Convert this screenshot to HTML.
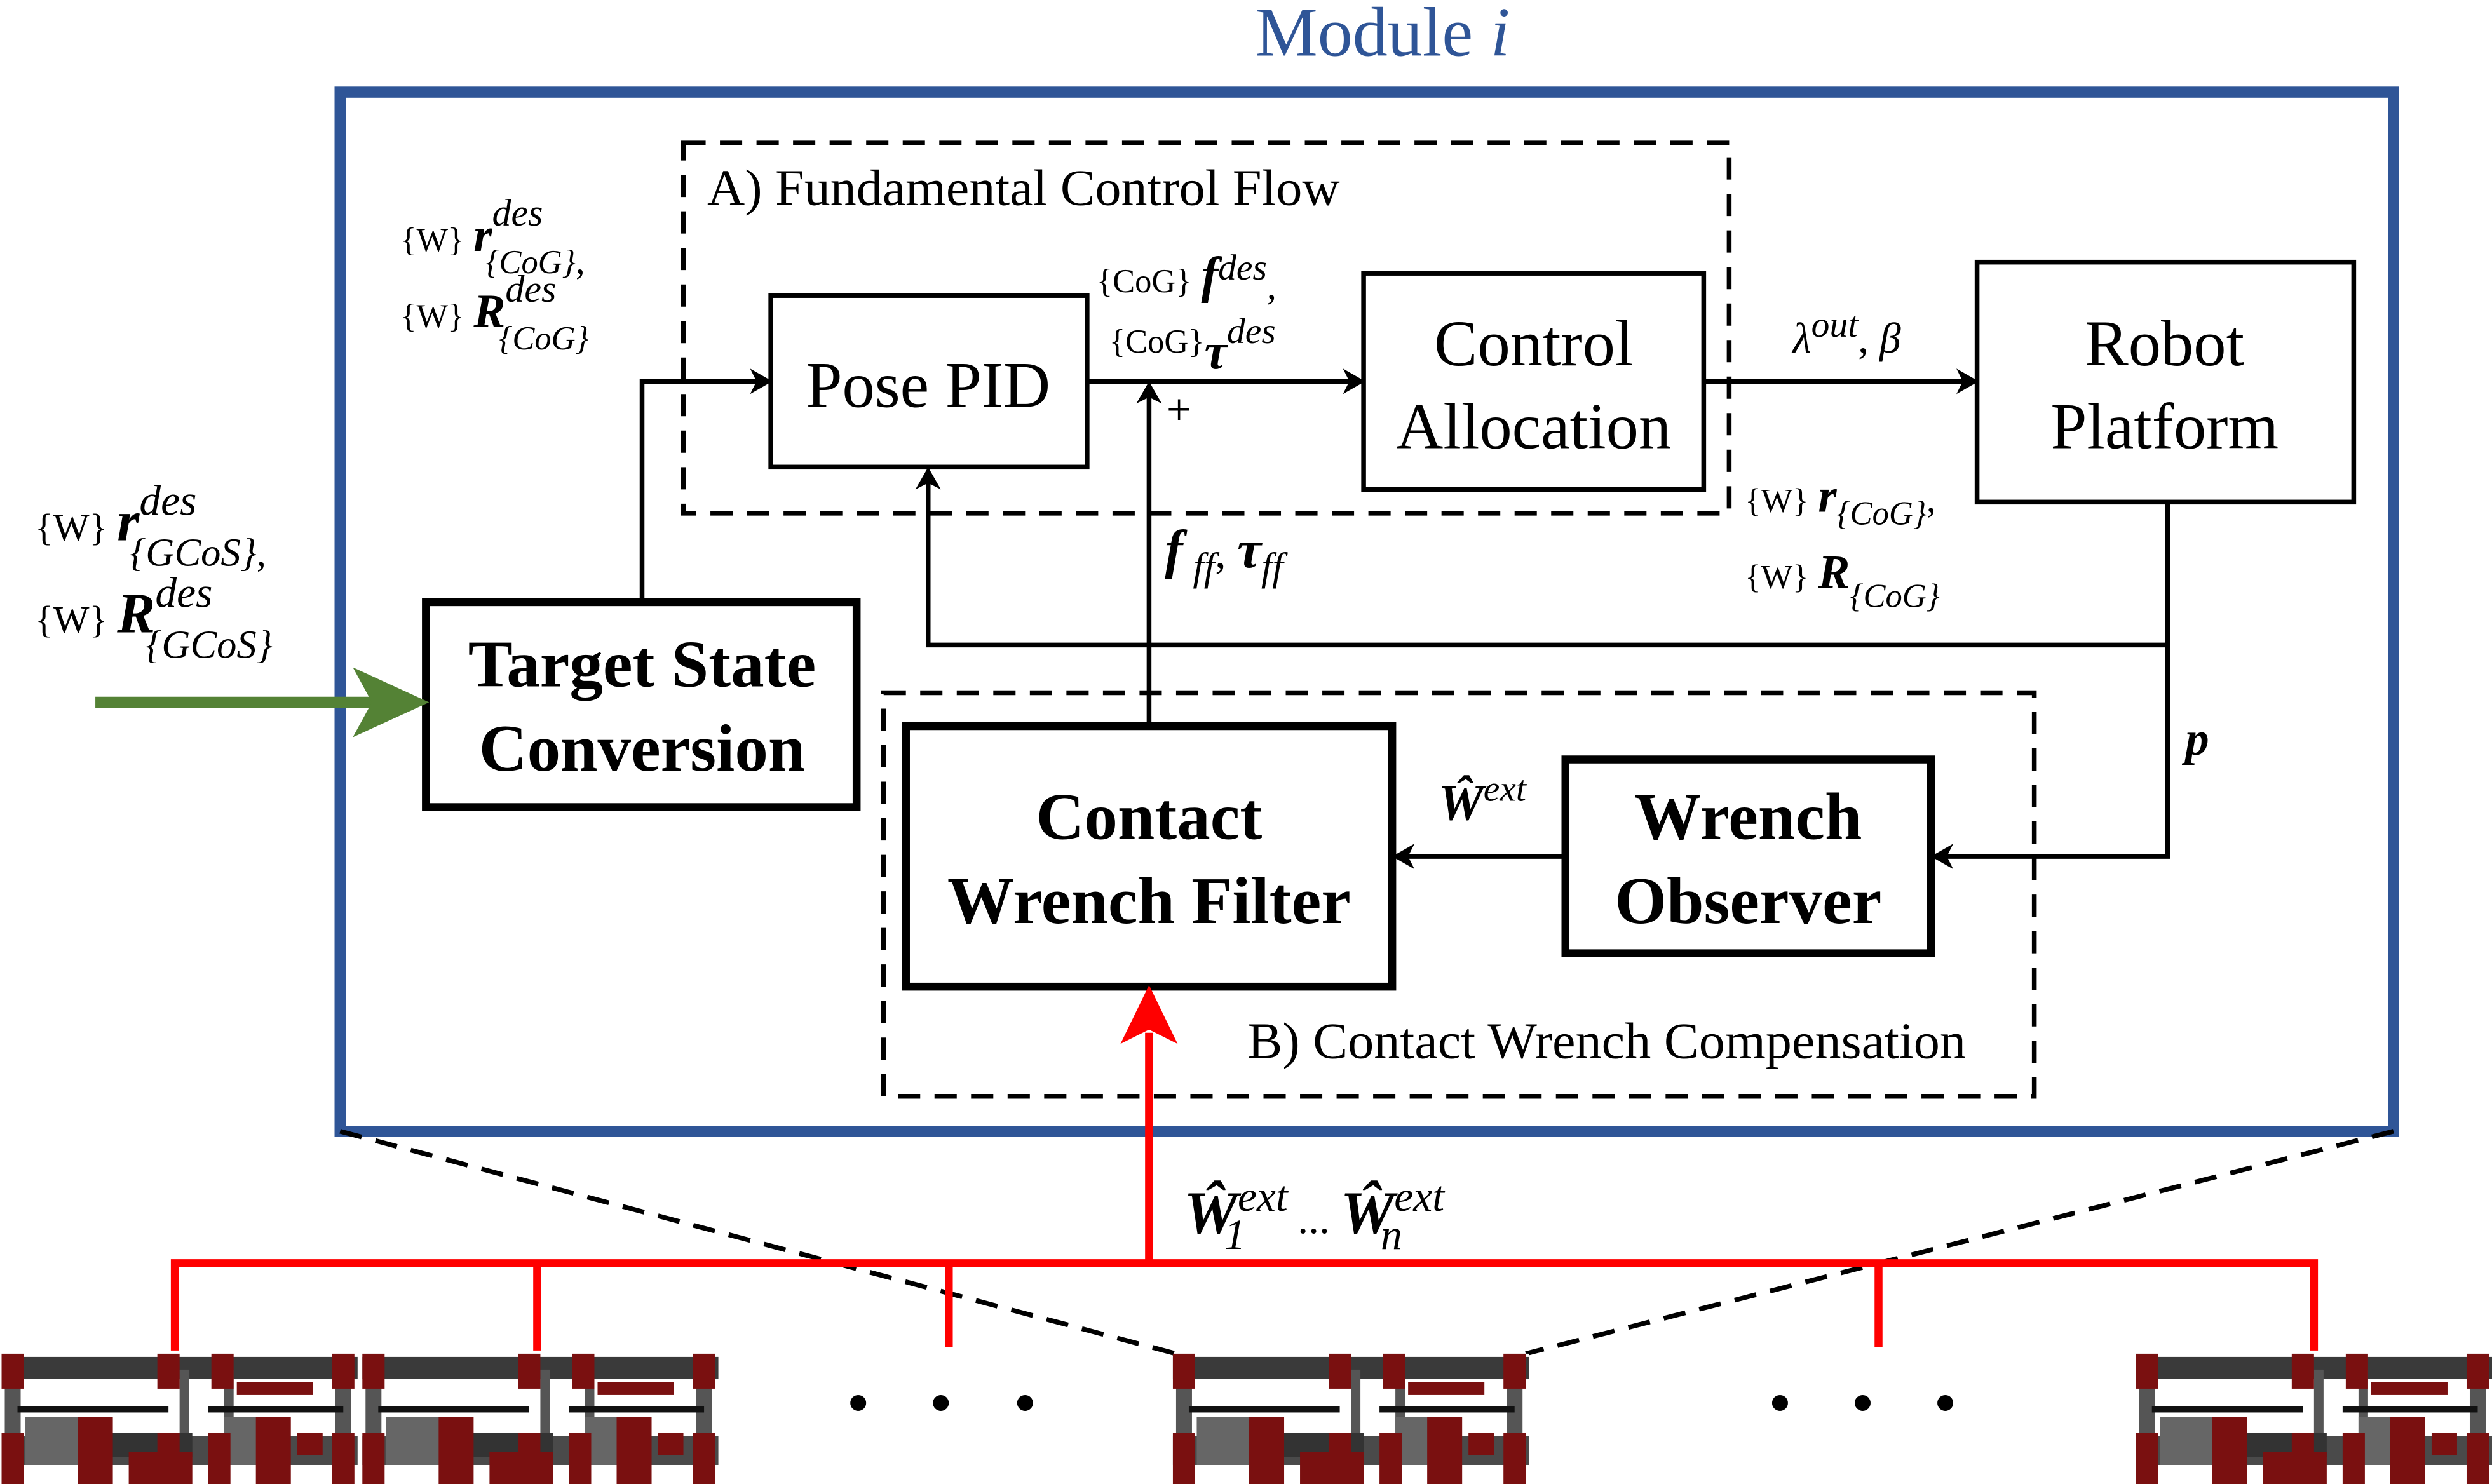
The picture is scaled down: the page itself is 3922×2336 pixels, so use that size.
<!DOCTYPE html>
<html><head><meta charset="utf-8"><style>
html,body{margin:0;padding:0;background:#fff}
svg{display:block}
text{font-family:"Liberation Serif",serif}
.m{font-style:italic}
</style></head><body>
<svg width="3922" height="2336" viewBox="0 0 1568 934" preserveAspectRatio="none" xmlns="http://www.w3.org/2000/svg">
<defs>
<g id="robot">
  <rect x="0" y="0" width="224" height="82" fill="#fff"/>
  <rect x="0" y="2" width="224" height="14" fill="#3a3a3a"/>
  <rect x="0" y="52" width="224" height="18" fill="#4a4a4a"/>
  <rect x="2" y="10" width="10" height="70" fill="#555"/>
  <rect x="112" y="10" width="6" height="60" fill="#555"/>
  <rect x="140" y="10" width="6" height="60" fill="#555"/>
  <rect x="210" y="10" width="10" height="70" fill="#555"/>
  <rect x="10" y="33" width="95" height="4" fill="#111"/>
  <rect x="130" y="33" width="85" height="4" fill="#111"/>
  <rect x="15" y="40" width="40" height="30" fill="#666"/>
  <rect x="140" y="40" width="40" height="30" fill="#666"/>
  <rect x="60" y="50" width="60" height="15" fill="#333"/>
  <g fill="#7a1010">
    <rect x="0" y="0" width="14" height="22"/><rect x="98" y="0" width="14" height="22"/>
    <rect x="132" y="0" width="14" height="22"/><rect x="208" y="0" width="14" height="22"/>
    <rect x="0" y="50" width="14" height="32"/><rect x="98" y="50" width="14" height="32"/>
    <rect x="130" y="50" width="14" height="32"/><rect x="208" y="50" width="14" height="32"/>
    <rect x="48" y="40" width="22" height="42"/><rect x="160" y="40" width="22" height="42"/>
    <rect x="148" y="18" width="48" height="8"/><rect x="80" y="62" width="40" height="20"/>
    <rect x="186" y="50" width="16" height="14"/>
  </g>
</g>
</defs>

<text x="870" y="35" text-anchor="middle" font-size="44" fill="#2f5597">Module <tspan class="m">i</tspan></text>
<rect x="214" y="58" width="1292" height="654" fill="none" stroke="#2f5597" stroke-width="7"/>

<g fill="none" stroke="#000" stroke-width="3" stroke-dasharray="14,9">
<rect x="430" y="90" width="658" height="233"/>
<rect x="556" y="436" width="724" height="254"/>
<line x1="214" y1="712" x2="740" y2="852"/>
<line x1="1506" y1="712" x2="960" y2="852"/>
</g>

<text x="445" y="129" font-size="32" textLength="398" lengthAdjust="spacingAndGlyphs">A) Fundamental Control Flow</text>
<text x="785" y="666" font-size="32" textLength="452" lengthAdjust="spacingAndGlyphs">B) Contact Wrench Compensation</text>

<g fill="#fff" stroke="#000">
<rect x="485" y="186" width="199" height="108" stroke-width="3"/>
<rect x="858" y="172" width="214" height="136" stroke-width="3"/>
<rect x="1244" y="165" width="237" height="151" stroke-width="3"/>
<rect x="268" y="379" width="271" height="129" stroke-width="5"/>
<rect x="570" y="457" width="306" height="164" stroke-width="5"/>
<rect x="985" y="478" width="230" height="122" stroke-width="5"/>
</g>
<g text-anchor="middle" font-size="41">
<text x="584" y="256">Pose PID</text>
<text x="965" y="230">Control</text><text x="965" y="282">Allocation</text>
<text x="1362" y="230">Robot</text><text x="1362" y="282">Platform</text>
<g font-weight="bold" font-size="42">
<text x="404" y="432">Target State</text><text x="404" y="485">Conversion</text>
<text x="723" y="528">Contact</text><text x="723" y="581">Wrench Filter</text>
<text x="1100" y="528">Wrench</text><text x="1100" y="581">Observer</text>
</g>
</g>

<g fill="none" stroke="#000" stroke-width="3">
<polyline points="404,379 404,240 478,240"/>
<line x1="684" y1="240" x2="851" y2="240"/>
<line x1="1072" y1="240" x2="1237" y2="240"/>
<polyline points="1364,316 1364,406 584,406 584,301"/>
<polyline points="1364,406 1364,539 1222,539"/>
<line x1="985" y1="539" x2="883" y2="539"/>
<line x1="723" y1="457" x2="723" y2="247"/>
</g>
<g fill="#000">
<polygon points="486,240 472,232 476,240 472,248"/>
<polygon points="859,240 845,232 849,240 845,248"/>
<polygon points="1245,240 1231,232 1235,240 1231,248"/>
<polygon points="584,294 576,308 584,304 592,308"/>
<polygon points="1215,539 1229,531 1225,539 1229,547"/>
<polygon points="876,539 890,531 886,539 890,547"/>
<polygon points="723,240 715,254 723,250 731,254"/>
</g>
<text x="734" y="267" font-size="28">+</text>

<line x1="60" y1="442" x2="235" y2="442" stroke="#548235" stroke-width="7"/>
<polygon points="270,442 222,420 234,442 222,464" fill="#548235"/>

<g stroke="#ff0000" stroke-width="5" fill="none">
<line x1="723" y1="795" x2="723" y2="650"/>
<polyline points="110,850 110,795 1456,795 1456,850"/>
<line x1="338" y1="795" x2="338" y2="850"/>
<line x1="597" y1="795" x2="597" y2="848"/>
<line x1="1182" y1="795" x2="1182" y2="848"/>
</g>
<polygon points="723,620 705,657 723,648 741,657" fill="#ff0000"/>

<g font-size="24">
<text x="252" y="158"><tspan font-size="21">{W}</tspan> <tspan class="m" font-weight="bold" font-size="30">r</tspan><tspan class="m" dy="-16" font-size="24">des</tspan><tspan class="m" dx="-36" dy="30" font-size="21">{CoG}</tspan>,</text>
<text x="252" y="206"><tspan font-size="21">{W}</tspan> <tspan class="m" font-weight="bold" font-size="30">R</tspan><tspan class="m" dy="-16" font-size="24">des</tspan><tspan class="m" dx="-36" dy="30" font-size="21">{CoG}</tspan></text>
<text x="22" y="340"><tspan font-size="24">{W}</tspan> <tspan class="m" font-weight="bold" font-size="36">r</tspan><tspan class="m" dy="-16" font-size="27">des</tspan><tspan class="m" dx="-42" dy="32" font-size="25">{GCoS}</tspan>,</text>
<text x="22" y="398"><tspan font-size="24">{W}</tspan> <tspan class="m" font-weight="bold" font-size="36">R</tspan><tspan class="m" dy="-16" font-size="27">des</tspan><tspan class="m" dx="-42" dy="32" font-size="25">{GCoS}</tspan></text>
<text x="690" y="184"><tspan font-size="21">{CoG}</tspan> <tspan class="m" font-weight="bold" font-size="32">f</tspan><tspan class="m" dy="-8" font-size="23">des</tspan><tspan dy="12">,</tspan></text>
<text x="698" y="222"><tspan font-size="21">{CoG}</tspan><tspan class="m" font-weight="bold" font-size="32" dy="10">τ</tspan><tspan class="m" dy="-16" font-size="23">des</tspan></text>
<text x="1128" y="222"><tspan class="m" font-size="27">λ</tspan><tspan class="m" dy="-10" font-size="23">out</tspan><tspan dy="10" font-size="27">, </tspan><tspan class="m" font-size="27">β</tspan></text>
<text x="1098" y="322"><tspan font-size="21">{W}</tspan> <tspan class="m" font-weight="bold" font-size="30">r</tspan><tspan class="m" dy="8" font-size="21">{CoG}</tspan><tspan dy="-8">,</tspan></text>
<text x="1098" y="370"><tspan font-size="21">{W}</tspan> <tspan class="m" font-weight="bold" font-size="30">R</tspan><tspan class="m" dy="12" font-size="21">{CoG}</tspan></text>
<text x="733" y="357"><tspan class="m" font-weight="bold" font-size="34">f</tspan><tspan class="m" dy="8" font-size="25"> ff</tspan><tspan dy="-8" font-size="28">, </tspan><tspan class="m" font-weight="bold" font-size="34">τ</tspan><tspan class="m" dy="8" font-size="25">ff</tspan></text>
<text x="1375" y="475" class="m" font-weight="bold" font-size="30">p</text>
<text x="905" y="516"><tspan class="m" font-weight="bold" font-size="32">Ŵ</tspan><tspan class="m" dy="-12" font-size="23">ext</tspan></text>
<text x="745" y="776"><tspan class="m" font-weight="bold" font-size="38">Ŵ</tspan><tspan class="m" dy="-14" font-size="27">ext</tspan><tspan class="m" dx="-40" dy="24" font-size="27">1</tspan><tspan dx="26" dy="-10" font-size="27"> ... </tspan><tspan class="m" font-weight="bold" font-size="38">Ŵ</tspan><tspan class="m" dy="-14" font-size="27">ext</tspan><tspan class="m" dx="-40" dy="24" font-size="27">n</tspan></text>
</g>

<use href="#robot" x="1" y="852"/>
<use href="#robot" x="228" y="852"/>
<use href="#robot" x="738" y="852"/>
<use href="#robot" x="1344" y="852"/>
<g fill="#000">
<circle cx="540" cy="883" r="5"/><circle cx="592" cy="883" r="5"/><circle cx="645" cy="883" r="5"/>
<circle cx="1120" cy="883" r="5"/><circle cx="1172" cy="883" r="5"/><circle cx="1224" cy="883" r="5"/>
</g>
</svg>
</body></html>
